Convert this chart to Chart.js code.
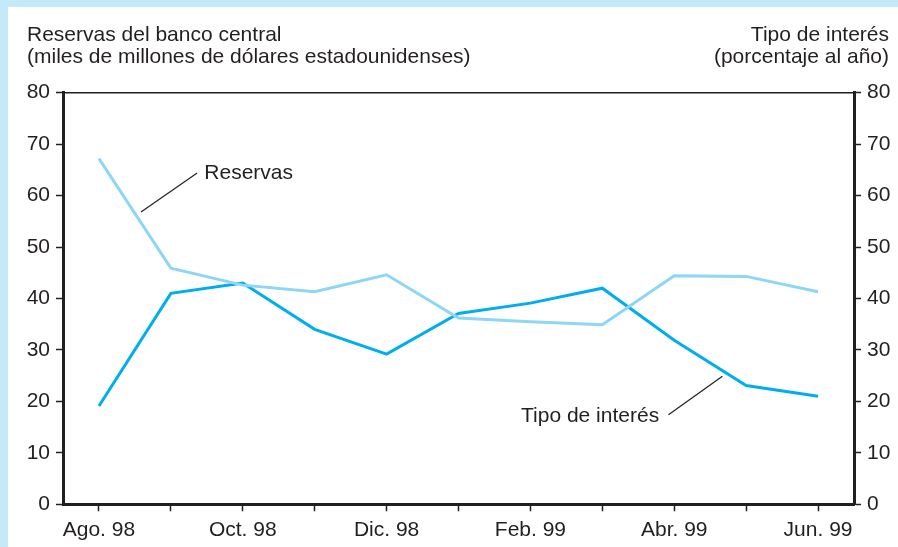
<!DOCTYPE html>
<html>
<head>
<meta charset="utf-8">
<script src="https://cdn.jsdelivr.net/npm/chart.js@4/dist/chart.umd.min.js"></script>
<style>
    html, body { margin: 0; padding: 0; background: #fff; }
    #wrap {
        width: 890px; height: 540px;
        border-top: 7px solid #c6e9f9;
        border-left: 8px solid #c6e9f9;
        background: #fff;
    }
</style>
</head>
<body>
<div id="wrap"><canvas id="chart" width="890" height="540"></canvas></div>
<script>
// Datos
const meses = ['Ago. 98', 'Sep. 98', 'Oct. 98', 'Nov. 98', 'Dic. 98', 'Ene. 99',
               'Feb. 99', 'Mar. 99', 'Abr. 99', 'May. 99', 'Jun. 99'];
const reservas = [67.2, 45.9, 42.6, 41.3, 44.6, 36.2, 35.5, 34.9, 44.4, 44.3, 41.3];
const tipoInteres = [19.1, 41.0, 43.0, 34.0, 29.2, 37.1, 39.1, 42.0, 31.9, 23.1, 21.0];
const ticksY = [0, 10, 20, 30, 40, 50, 60, 70, 80];

const FONT = "'Liberation Sans', Arial, sans-serif";
const FSIZE = 21;
const TEXT = '#231f20';
const AXIS = '#231f20';

// Títulos de los ejes, línea superior y etiquetas con líneas guía
const decoPlugin = {
    id: 'deco',
    afterDraw(chart) {
        const ctx = chart.ctx;
        const area = chart.chartArea;
        const x = chart.scales.x;
        const y = chart.scales.y;

        ctx.save();
        // línea superior fina
        ctx.strokeStyle = AXIS;
        ctx.lineWidth = 1.5;
        ctx.beginPath();
        ctx.moveTo(area.left, area.top);
        ctx.lineTo(area.right, area.top);
        ctx.stroke();

        ctx.fillStyle = TEXT;
        ctx.font = FSIZE + 'px ' + FONT;
        ctx.textBaseline = 'middle';
        ctx.textAlign = 'left';
        ctx.fillText('Reservas del banco central', 19, 28);
        ctx.fillText('(miles de millones de dólares estadounidenses)', 19, 50);
        ctx.textAlign = 'right';
        ctx.fillText('Tipo de interés', 881, 28);
        ctx.fillText('(porcentaje al año)', 881, 50);

        // Reservas
        ctx.lineWidth = 1.2;
        ctx.beginPath();
        ctx.moveTo(x.getPixelForValue(0.585), y.getPixelForValue(56.8));
        ctx.lineTo(x.getPixelForValue(1.365), y.getPixelForValue(64.4));
        ctx.stroke();
        ctx.textAlign = 'left';
        ctx.fillText('Reservas', x.getPixelForValue(1.465), y.getPixelForValue(64.4));

        // Tipo de interés
        ctx.beginPath();
        ctx.moveTo(x.getPixelForValue(8.67), y.getPixelForValue(24.9));
        ctx.lineTo(x.getPixelForValue(7.92), y.getPixelForValue(17.4));
        ctx.stroke();
        ctx.textAlign = 'right';
        ctx.fillText('Tipo de interés', x.getPixelForValue(7.79), y.getPixelForValue(17.1));
        ctx.restore();
    }
};

function ejeY(position, width) {
    return {
        type: 'linear',
        position: position,
        min: 0,
        max: 80,
        afterBuildTicks: (scale) => { scale.ticks = ticksY.map(v => ({ value: v })); },
        afterFit: (scale) => { scale.width = width; },
        border: { display: true, color: AXIS, width: 3 },
        grid: {
            drawOnChartArea: false,
            drawTicks: true,
            tickLength: 7,
            tickColor: AXIS,
            tickWidth: 1.5
        },
        ticks: {
            color: TEXT,
            font: { family: FONT, size: FSIZE },
            padding: 6
        }
    };
}

new Chart(document.getElementById('chart').getContext('2d'), {
    type: 'line',
    data: {
        labels: meses,
        datasets: [{
            label: 'Reservas',
            data: reservas,
            yAxisID: 'y',
            borderColor: '#8ed6f6',
            borderWidth: 3,
            pointRadius: 0,
            tension: 0
        }, {
            label: 'Tipo de interés',
            data: tipoInteres,
            yAxisID: 'y2',
            borderColor: '#00aeef',
            borderWidth: 3,
            pointRadius: 0,
            tension: 0
        }]
    },
    options: {
        responsive: false,
        animation: false,
        layout: { padding: { top: 85.7, left: 0, right: 0, bottom: 0 } },
        plugins: {
            legend: { display: false },
            tooltip: { enabled: false }
        },
        scales: {
            x: {
                type: 'category',
                offset: true,
                afterFit: (scale) => { scale.height = 42.7; },
                border: { display: true, color: AXIS, width: 3 },
                grid: {
                    offset: false,
                    drawOnChartArea: false,
                    drawTicks: true,
                    tickLength: 7,
                    tickColor: AXIS,
                    tickWidth: 1.5
                },
                ticks: {
                    autoSkip: false,
                    maxRotation: 0,
                    color: TEXT,
                    font: { family: FONT, size: FSIZE },
                    padding: 6,
                    callback: function(value, index) {
                        return index % 2 === 0 ? meses[index] : '';
                    }
                }
            },
            y: ejeY('left', 55),
            y2: ejeY('right', 44)
        }
    },
    plugins: [decoPlugin]
});
</script>
</body>
</html>
